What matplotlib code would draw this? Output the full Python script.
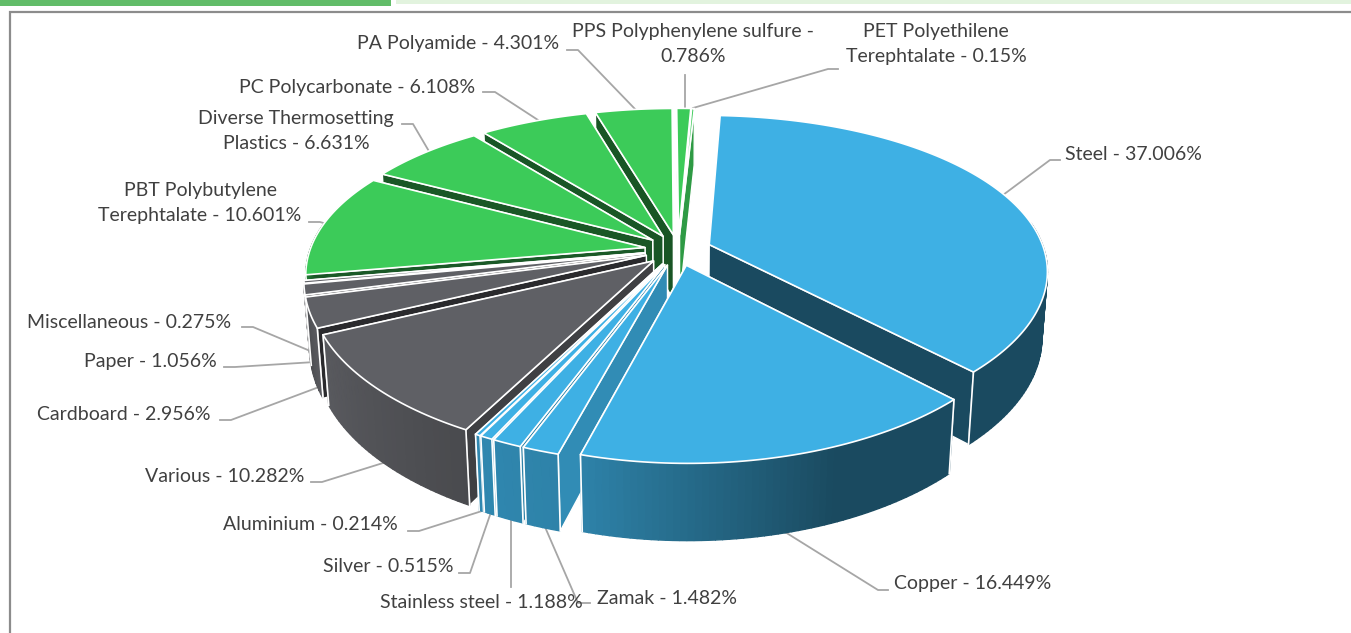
import numpy as np
import matplotlib
matplotlib.use("Agg")
import matplotlib.pyplot as plt
from matplotlib.colors import to_rgb
from matplotlib.patches import Polygon, Rectangle

# data
materials = ["Steel", "Copper", "Zamak", "Stainless steel", "Silver", "Aluminium", "Various",
             "Cardboard", "Paper", "Miscellaneous", "PBT Polybutylene\nTerephtalate",
             "Diverse Thermosetting\nPlastics", "PC Polycarbonate", "PA Polyamide",
             "PPS Polyphenylene sulfure -\n", "PET Polyethilene\nTerephtalate"]
shares = [37.006, 16.449, 1.482, 1.188, 0.515, 0.214, 10.282, 2.956, 1.056, 0.275,
          10.601, 6.631, 6.108, 4.301, 0.786, 0.15]
groups = ["metal"] * 6 + ["other"] * 4 + ["plastic"] * 6

group_colors = {"metal": "#3EB0E4", "other": "#5F6065", "plastic": "#3CCB59"}

# label anchor (x, y, ha) and leader line, in pixels
label_pos = [
    (1065, 155, "left"), (894, 584, "left"), (597, 598, "left"), (380, 602, "left"),
    (323, 567, "left"), (223, 525, "left"), (145, 476, "left"), (37, 414, "left"),
    (84, 361, "left"), (27, 322, "left"), (200, 203, "center"), (296, 131, "center"),
    (239, 87, "left"), (357, 44, "left"), (693, 44, "center"), (936, 44, "center"),
]
leaders = [
    [(1060, 160), (1050, 160), (1003, 195)],
    [(888, 590), (878, 590), (785, 532)],
    [(590, 603), (578, 603), (545, 527)],
    [(511, 587), (511, 520)],
    [(459, 573), (470, 573), (490, 515)],
    [(408, 531), (419, 531), (482, 511)],
    [(311, 482), (322, 482), (383, 463)],
    [(220, 420), (231, 420), (319, 387)],
    [(224, 367), (235, 367), (315, 362)],
    [(242, 327), (253, 327), (315, 353)],
    [(309, 222), (320, 222), (327, 224)],
    [(402, 124), (413, 124), (430, 153)],
    [(483, 92), (495, 92), (538, 120)],
    [(567, 50), (578, 50), (635, 109)],
    [(685, 75), (685, 108)],
    [(838, 69), (828, 69), (693, 108)],
]

# projection of the 3d pie
CX, CY = 678, 250
RX, RY = 335, 155
CAM = 5.4
THICK = 0.43
START = 3.0
EXPLODE = 0.1


def project(x, y, z):
    s = CAM / (CAM + y - z * 0.22)
    return CX + RX * x * s ** 0.85, CY - RY * (y + z) * s


def shade(color, f):
    return tuple(min(1, c * f) for c in to_rgb(color))


def wall_factor(theta):
    return np.interp(theta, [158, 195, 207, 245, 255, 272], [0.42, 0.74, 0.77, 0.94, 0.8, 0.42])


def side_factor(normal):
    return np.interp(normal % 360, [90, 105, 117, 155, 240], [0.75, 0.8, 0.67, 0.44, 0.42])


fig = plt.figure(figsize=(13.51, 6.33), dpi=100)
ax = fig.add_axes([0, 0, 1, 1])
ax.set_xlim(0, 1351)
ax.set_ylim(633, 0)
ax.axis("off")

# page strips and chart frame
ax.add_patch(Rectangle((0, 0), 391, 6, color="#62BD69", lw=0))
ax.add_patch(Rectangle((396, 0), 955, 4, color="#E2F3DE", lw=0))
ax.plot([10, 10, 1351], [633, 12, 12], color="#8C8C8C", lw=1.6, solid_joinstyle="miter")

for pts in leaders:
    ax.plot(*zip(*pts), color="#A6A6A6", lw=1.3, zorder=1)

edges = np.cumsum([0] + shares) * 3.6 + START
slices = []
for i, share in enumerate(shares):
    a0, a1 = edges[i], edges[i + 1]
    mid = np.radians((a0 + a1) / 2)
    slices.append((np.cos(mid), i, a0, a1, mid))
slices.sort(key=lambda t: -t[0])

for depth, (_, i, a0, a1, mid) in enumerate(slices):
    col = group_colors[groups[i]]
    ox, oy = EXPLODE * np.sin(mid), EXPLODE * np.cos(mid)
    th = np.radians(np.linspace(a0, a1, max(4, int(a1 - a0))))
    xs = ox + np.sin(th)
    ys = oy + np.cos(th)
    z = depth * 10 + 3

    # radial walls, the one facing away first
    walls = sorted([(a0, a0 - 90), (a1, a1 + 90)], key=lambda w: -np.cos(np.radians(w[1])))
    for ang, normal in walls:
        t = np.radians(ang)
        ex, ey = ox + np.sin(t), oy + np.cos(t)
        pts = [project(ox, oy, 0), project(ex, ey, 0), project(ex, ey, -THICK), project(ox, oy, -THICK)]
        ax.add_patch(Polygon(pts, closed=True, fc=shade(col, side_factor(normal)), ec="white", lw=1.0, zorder=z))

    # outer wall, split up for the gradient
    for k in range(len(th) - 1):
        if np.cos(th[k]) > 0.15:
            continue
        pts = [project(xs[k], ys[k], 0), project(xs[k + 1], ys[k + 1], 0),
               project(xs[k + 1], ys[k + 1], -THICK), project(xs[k], ys[k], -THICK)]
        c = shade(col, wall_factor(np.degrees(th[k])))
        ax.add_patch(Polygon(pts, closed=True, fc=c, ec=c, lw=1.0, zorder=z + 1))
    for k in (0, len(th) - 1):
        if np.cos(th[k]) < 0.15:
            p0, p1 = project(xs[k], ys[k], 0), project(xs[k], ys[k], -THICK)
            ax.plot([p0[0], p1[0]], [p0[1], p1[1]], color="white", lw=1.2, zorder=z + 2)

    # top face
    top = [project(ox, oy, 0)] + [project(a, b, 0) for a, b in zip(xs, ys)]
    ax.add_patch(Polygon(top, closed=True, fc=col, ec="white", lw=1.2, zorder=z + 3, joinstyle="round"))

for name, share, (x, y, ha) in zip(materials, shares, label_pos):
    txt = f"{name} - {share}%" if not name.endswith("-\n") else f"{name}{share}%"
    ax.text(x, y, txt, ha=ha, va="center", fontsize=14, family="Lato", color="#404040",
            linespacing=1.6, zorder=600)

fig.savefig("out.png", dpi=100)
